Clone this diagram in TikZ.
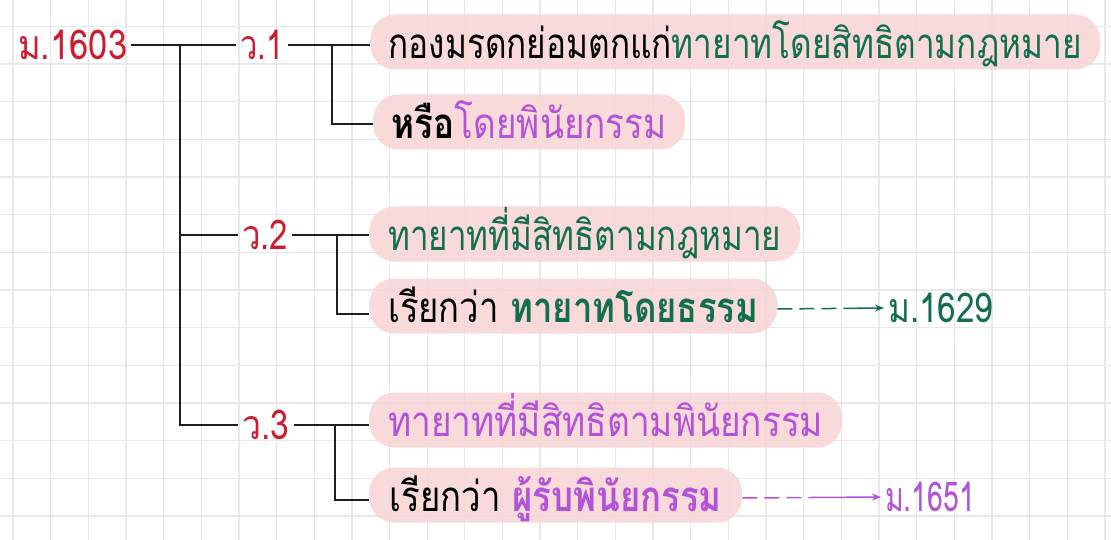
\documentclass[tikz,border=0pt]{standalone}
\usepackage{fontspec}
\usepackage{graphicx}
\newfontfamily\thai[Script=Thai]{Loma}
\usetikzlibrary{arrows.meta,calc}
\definecolor{tred}{RGB}{205,28,48}
\definecolor{tgreen}{RGB}{18,110,78}
\definecolor{tpurple}{RGB}{178,82,216}
\definecolor{tpink}{RGB}{249,212,212}
\definecolor{tgrid}{RGB}{232,232,232}
\definecolor{tline}{RGB}{30,30,30}
\newcommand{\fitw}[2]{\resizebox{#1pt}{\height}{#2}}
\begin{document}
\begin{tikzpicture}[x=1pt,y=-1pt,
  pinkbox/.style={fill=tpink, fill opacity=0.85, text opacity=1, rounded corners=25pt,
    minimum height=55pt, inner xsep=0pt, inner ysep=0pt, text height=44pt, text depth=11pt,
    anchor=west, font=\thai\fontsize{42}{44}\selectfont},
  lbl/.style={inner sep=4pt, font=\thai\fontsize{41}{44}\selectfont, text=tred},
  conn/.style={line width=1.7pt, draw=tline},
  refarrow/.style={line width=1.5pt, dash pattern=on 15pt off 7pt on 15pt off 7pt on 15pt off 7pt on 80pt off 10pt,
    -{Stealth[length=9pt,width=7pt]}},
  gridline/.style={draw=tgrid, line width=1.3pt},
]
\useasboundingbox (0,0) rectangle (1111,540);
\fill[white] (0,0) rectangle (1111,540);
\foreach \i in {0,...,29} \draw[gridline] ({13+37.65*\i},0) -- ({13+37.65*\i},540);
\foreach \j in {0,...,13} \draw[gridline] (0,{26.4+37.65*\j}) -- (1111,{26.4+37.65*\j});

% labels
\node[lbl, anchor=west] (m1603) at (14,45) {\fitw{109}{ม.1603}};
\node[lbl] (w1) at (262,45) {\fitw{43}{ว.1}};
\node[lbl] (w2) at (265,235) {\fitw{46}{ว.2}};
\node[lbl] (w3) at (266,425) {\fitw{47}{ว.3}};

% boxes
\node[pinkbox, minimum width=730pt] (b1) at (370,42)
  {\fitw{693}{กองมรดกย่อมตกแก่\textcolor{tgreen}{ทายาทโดยสิทธิตามกฎหมาย}}};
\node[pinkbox, minimum width=312pt] (b2) at (373,122)
  {\fitw{275}{{\bfseries หรือ}\textcolor{tpurple}{โดยพินัยกรรม}}};
\node[pinkbox, minimum width=431pt] (b3) at (369,234)
  {\fitw{393}{\textcolor{tgreen}{ทายาทที่มีสิทธิตามกฎหมาย}}};
\node[pinkbox, minimum width=408pt] (b4) at (369,306)
  {\fitw{370}{เรียกว่า {\bfseries\color{tgreen}ทายาทโดยธรรม}}};
\node[pinkbox, minimum width=473pt] (b5) at (369,420)
  {\fitw{435}{\textcolor{tpurple}{ทายาทที่มีสิทธิตามพินัยกรรม}}};
\node[pinkbox, minimum width=373pt] (b6) at (369,495)
  {\fitw{332}{เรียกว่า {\bfseries\color{tpurple}ผู้รับพินัยกรรม}}};

\node[lbl, text=tgreen, anchor=west] (m1629) at (884,308) {\fitw{105}{ม.1629}};
\node[lbl, text=tpurple, anchor=west] (m1651) at (881,497) {\fitw{90}{ม.1651}};

% connectors
\coordinate (tx) at (180,0);
\coordinate (sx1) at (332,0);
\coordinate (sx2) at (337,0);
\coordinate (sx3) at (335,0);
\draw[conn] (m1603.east) -- (w1.west);
\coordinate (trunk) at (m1603.east -| tx);
\draw[conn] (trunk) |- (w3.west);
\draw[conn] (trunk |- w2.west) -- (w2.west);
\draw[conn] (w1.east) -- (w1.east -| b1.west);
\coordinate (s1) at (w1.east -| sx1);
\draw[conn] (s1) |- ([yshift=-2pt]b2.west);
\draw[conn] (w2.east) -- (w2.east -| b3.west);
\coordinate (s2) at (w2.east -| sx2);
\draw[conn] (s2) |- ([yshift=-8pt]b4.west);
\draw[conn] (w3.east) -- (w3.east -| b5.west);
\coordinate (s3) at (w3.east -| sx3);
\draw[conn] (s3) |- ([yshift=-5pt]b6.west);

\draw[refarrow, tgreen] ([yshift=-3pt]b4.east) -- (m1629.west);
\draw[refarrow, tpurple] ([yshift=-3pt]b6.east) -- (m1651.west);
\end{tikzpicture}
\end{document}
